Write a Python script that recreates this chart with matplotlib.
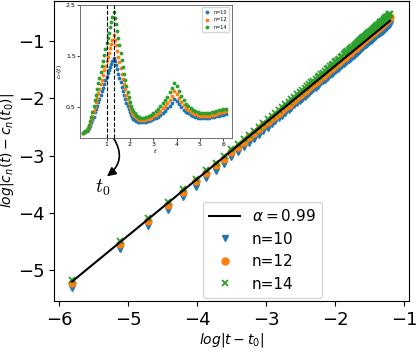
import numpy as np
import matplotlib.pyplot as plt

# main panel: log|c_n(t) - c_n(t0)| vs log|t - t0|
t_minus_t0 = [
    0.003, 0.006, 0.009, 0.012, 0.015, 0.018, 0.021, 0.024, 0.027, 0.030,
    0.033, 0.036, 0.039, 0.042, 0.045, 0.048, 0.051, 0.054, 0.057, 0.060,
    0.063, 0.066, 0.069, 0.072, 0.075, 0.078, 0.081, 0.084, 0.087, 0.090,
    0.093, 0.096, 0.099, 0.102, 0.105, 0.108, 0.111, 0.114, 0.117, 0.120,
    0.123, 0.126, 0.129, 0.132, 0.135, 0.138, 0.141, 0.144, 0.147, 0.150,
    0.153, 0.156, 0.159, 0.162, 0.165, 0.168, 0.171, 0.174, 0.177, 0.180,
    0.183, 0.186, 0.189, 0.192, 0.195, 0.198, 0.201, 0.204, 0.207, 0.210,
    0.213, 0.216, 0.219, 0.222, 0.225, 0.228, 0.231, 0.234, 0.237, 0.240,
    0.243, 0.246, 0.249, 0.252, 0.255, 0.258, 0.261, 0.264, 0.267, 0.270,
    0.273, 0.276, 0.279, 0.282, 0.285, 0.288, 0.291, 0.294, 0.297, 0.300]

n10 = [
    -5.32, -4.63, -4.23, -3.95, -3.72, -3.54, -3.39, -3.26, -3.14, -3.03,
    -2.94, -2.85, -2.77, -2.70, -2.63, -2.56, -2.51, -2.45, -2.40, -2.35,
    -2.30, -2.25, -2.21, -2.16, -2.12, -2.08, -2.04, -2.01, -1.97, -1.94,
    -1.90, -1.87, -1.84, -1.81, -1.78, -1.75, -1.72, -1.70, -1.67, -1.64,
    -1.62, -1.59, -1.57, -1.55, -1.52, -1.50, -1.48, -1.46, -1.43, -1.42,
    -1.40, -1.38, -1.36, -1.34, -1.32, -1.31, -1.29, -1.27, -1.25, -1.23,
    -1.22, -1.20, -1.18, -1.17, -1.15, -1.13, -1.12, -1.10, -1.09, -1.07,
    -1.06, -1.04, -1.03, -1.01, -1.00, -0.99, -0.97, -0.96, -0.94, -0.93,
    -0.92, -0.90, -0.89, -0.88, -0.87, -0.86, -0.85, -0.84, -0.83, -0.82,
    -0.80, -0.79, -0.78, -0.77, -0.76, -0.75, -0.73, -0.72, -0.71, -0.70]

n12 = [
    -5.23, -4.54, -4.14, -3.86, -3.63, -3.45, -3.30, -3.17, -3.05, -2.94,
    -2.85, -2.76, -2.68, -2.61, -2.54, -2.47, -2.41, -2.35, -2.30, -2.25,
    -2.20, -2.15, -2.11, -2.06, -2.02, -1.98, -1.94, -1.91, -1.87, -1.84,
    -1.80, -1.77, -1.74, -1.71, -1.68, -1.65, -1.62, -1.60, -1.57, -1.54,
    -1.52, -1.49, -1.47, -1.45, -1.42, -1.40, -1.38, -1.36, -1.33, -1.31,
    -1.29, -1.27, -1.25, -1.23, -1.21, -1.20, -1.18, -1.16, -1.14, -1.12,
    -1.11, -1.09, -1.07, -1.06, -1.04, -1.02, -1.01, -0.99, -0.98, -0.96,
    -0.95, -0.93, -0.92, -0.90, -0.89, -0.88, -0.86, -0.85, -0.83, -0.82,
    -0.81, -0.79, -0.78, -0.77, -0.76, -0.74, -0.73, -0.72, -0.71, -0.70,
    -0.68, -0.67, -0.66, -0.65, -0.64, -0.63, -0.61, -0.60, -0.59, -0.58]

n14 = [
    -5.18, -4.49, -4.09, -3.81, -3.58, -3.40, -3.25, -3.12, -3.00, -2.89,
    -2.80, -2.71, -2.63, -2.56, -2.49, -2.42, -2.36, -2.30, -2.25, -2.20,
    -2.15, -2.10, -2.06, -2.01, -1.97, -1.93, -1.89, -1.86, -1.82, -1.79,
    -1.75, -1.72, -1.69, -1.66, -1.63, -1.60, -1.57, -1.55, -1.52, -1.49,
    -1.47, -1.44, -1.42, -1.40, -1.37, -1.35, -1.33, -1.31, -1.28, -1.25,
    -1.23, -1.21, -1.19, -1.17, -1.15, -1.14, -1.12, -1.10, -1.08, -1.06,
    -1.05, -1.03, -1.01, -1.00, -0.98, -0.96, -0.95, -0.93, -0.92, -0.90,
    -0.89, -0.87, -0.86, -0.84, -0.83, -0.82, -0.80, -0.79, -0.77, -0.76,
    -0.75, -0.73, -0.72, -0.71, -0.70, -0.68, -0.67, -0.66, -0.65, -0.64,
    -0.62, -0.61, -0.60, -0.59, -0.58, -0.57, -0.55, -0.54, -0.53, -0.52]

alpha = 0.99
intercept = 0.55

# inset: c_n(t)
t_inset = [
    0.00, 0.05, 0.10, 0.15, 0.20, 0.25, 0.30, 0.35, 0.40, 0.45,
    0.50, 0.55, 0.60, 0.65, 0.70, 0.75, 0.80, 0.85, 0.90, 0.95,
    1.00, 1.05, 1.10, 1.15, 1.20, 1.25, 1.30, 1.35, 1.40, 1.45,
    1.50, 1.55, 1.60, 1.65, 1.70, 1.75, 1.80, 1.85, 1.90, 1.95,
    2.00, 2.05, 2.10, 2.15, 2.20, 2.25, 2.30, 2.35, 2.40, 2.45,
    2.50,
    2.6, 2.7, 2.8, 2.9, 3.0, 3.1, 3.2, 3.3, 3.4, 3.5,
    3.6, 3.7, 3.8, 3.9, 4.0, 4.1, 4.2, 4.3, 4.4, 4.5,
    4.6, 4.7, 4.8, 4.9, 5.0, 5.1, 5.2, 5.3, 5.4, 5.5,
    5.6, 5.7, 5.8, 5.9, 6.0, 6.1]

c10 = [
    0.00, 0.01, 0.02, 0.04, 0.06, 0.10, 0.14, 0.19, 0.25, 0.32,
    0.40, 0.47, 0.53, 0.60, 0.67, 0.74, 0.81, 0.88, 0.95, 1.03,
    1.10, 1.17, 1.23, 1.29, 1.35, 1.41, 1.47, 1.40, 1.32, 1.24,
    1.16, 1.07, 0.99, 0.90, 0.82, 0.74, 0.66, 0.59, 0.52, 0.46,
    0.40, 0.35, 0.31, 0.28, 0.26, 0.24, 0.23, 0.22, 0.22, 0.21,
    0.21,
    0.21, 0.22, 0.23, 0.25, 0.27, 0.29, 0.32, 0.35, 0.39, 0.43,
    0.48, 0.53, 0.59, 0.66, 0.63, 0.57, 0.50, 0.45, 0.41, 0.38,
    0.35, 0.33, 0.31, 0.30, 0.29, 0.29, 0.29, 0.29, 0.30, 0.31,
    0.32, 0.33, 0.34, 0.35, 0.36, 0.37]

c12 = [
    0.00, 0.01, 0.02, 0.05, 0.08, 0.13, 0.18, 0.25, 0.33, 0.42,
    0.51, 0.60, 0.69, 0.78, 0.86, 0.95, 1.04, 1.13, 1.22, 1.31,
    1.40, 1.49, 1.57, 1.65, 1.74, 1.82, 1.91, 1.81, 1.71, 1.60,
    1.49, 1.38, 1.27, 1.16, 1.05, 0.95, 0.85, 0.75, 0.66, 0.58,
    0.51, 0.45, 0.40, 0.36, 0.33, 0.31, 0.29, 0.28, 0.27, 0.26,
    0.26,
    0.26, 0.27, 0.28, 0.30, 0.33, 0.36, 0.39, 0.43, 0.48, 0.53,
    0.59, 0.65, 0.72, 0.81, 0.77, 0.69, 0.61, 0.55, 0.49, 0.45,
    0.42, 0.39, 0.37, 0.35, 0.34, 0.33, 0.33, 0.34, 0.34, 0.35,
    0.36, 0.37, 0.38, 0.40, 0.41, 0.42]

c14 = [
    0.00, 0.01, 0.03, 0.06, 0.10, 0.16, 0.23, 0.31, 0.41, 0.52,
    0.64, 0.75, 0.86, 0.97, 1.08, 1.19, 1.30, 1.41, 1.52, 1.64,
    1.75, 1.86, 1.96, 2.06, 2.16, 2.26, 2.37, 2.25, 2.12, 1.99,
    1.85, 1.71, 1.57, 1.43, 1.29, 1.16, 1.03, 0.91, 0.80, 0.70,
    0.61, 0.53, 0.47, 0.42, 0.38, 0.35, 0.33, 0.32, 0.31, 0.30,
    0.30,
    0.30, 0.31, 0.33, 0.36, 0.39, 0.43, 0.47, 0.52, 0.58, 0.64,
    0.71, 0.79, 0.87, 0.97, 0.92, 0.82, 0.72, 0.64, 0.57, 0.52,
    0.48, 0.45, 0.42, 0.40, 0.39, 0.38, 0.38, 0.38, 0.39, 0.40,
    0.41, 0.42, 0.44, 0.45, 0.46, 0.46]

t_marks = [1.0, 1.3]
t0 = 1.3

fig = plt.figure(figsize=(4.16, 3.54), dpi=100)
ax = fig.add_axes([0.13, 0.15, 0.853, 0.848])

log_dt = np.log(t_minus_t0)
ax.plot(log_dt, alpha * log_dt + intercept, color='k', lw=1.5, zorder=3,
        label=r'$\alpha = 0.99$')
ax.plot(log_dt, n10, 'v', color='C0', ms=5, label='n=10')
ax.plot(log_dt, n12, 'o', color='C1', ms=5, label='n=12')
ax.plot(log_dt, n14, 'x', color='C2', ms=5, mew=1.3, label='n=14')

ax.set_xlim(-6.07, -0.93)
ax.set_ylim(-5.54, -0.29)
ax.tick_params(labelsize=13)
ax.set_xlabel(r'$log|t-t_0|$', fontsize=10, labelpad=2)
ax.set_ylabel(r'$log|c_n(t)-c_n(t_0)|$', fontsize=10)
ax.yaxis.set_label_coords(-0.106, 0.5)
ax.legend(loc='lower left', bbox_to_anchor=(0.42, 0.01), borderaxespad=0,
          fontsize=11)

# inset
axin = fig.add_axes([0.192, 0.61, 0.365, 0.376])
axin.plot(t_inset, c10, '.', color='C0', ms=3.5, label='n=10')
axin.plot(t_inset, c12, '.', color='C1', ms=3.5, label='n=12')
axin.plot(t_inset, c14, '.', color='C2', ms=3.5, label='n=14')
for tm in t_marks:
    axin.axvline(tm, color='k', ls='--', lw=0.8)
axin.set_xlim(-0.14, 6.36)
axin.set_ylim(-0.10, 2.5)
axin.set_xticks([1, 2, 3, 4, 5, 6])
axin.set_yticks([0.5, 1.5, 2.5])
axin.tick_params(labelsize=4.5, length=2, width=0.5, pad=1)
for sp in axin.spines.values():
    sp.set_linewidth(0.6)
    sp.set_color('0.35')
axin.set_xlabel(r'$t$', fontsize=4.5, labelpad=0)
axin.set_ylabel(r'$c_n(t)$', fontsize=4.5, labelpad=1)
axin.legend(loc='upper right', fontsize=3.5, handlelength=1, borderpad=0.5,
            labelspacing=0.5)

# arrow pointing from the second dashed line down to t0
ax.annotate('', xy=(0.149, 0.415), xycoords='axes fraction',
            xytext=(t0, -0.10), textcoords=axin.transData,
            arrowprops=dict(arrowstyle='-|>', connectionstyle='arc3,rad=-0.45',
                            color='k', lw=1.2, mutation_scale=13,
                            shrinkA=0, shrinkB=0))
ax.text(0.138, 0.375, r'$t_0$', transform=ax.transAxes, fontsize=14,
        ha='center', va='center', math_fontfamily='cm')

fig.savefig('out.png', dpi=100)
